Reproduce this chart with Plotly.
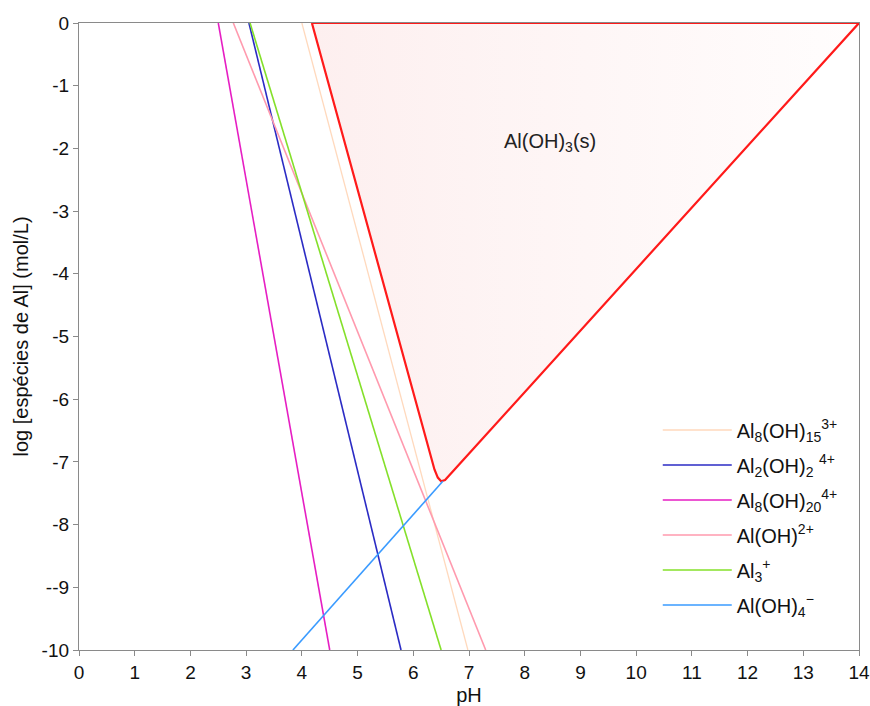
import plotly.graph_objects as go

# ---- data ----
species_names = [
    "Al<sub>8</sub>(OH)<sub>15</sub><sup>3+</sup>",
    "Al<sub>2</sub>(OH)<sub>2</sub> <sup>4+</sup>",
    "Al<sub>8</sub>(OH)<sub>20</sub><sup>4+</sup>",
    "Al(OH)<sup>2+</sup>",
    "Al<sub>3</sub><sup>+</sup>",
    "Al(OH)<sub>4</sub><sup>−</sup>",
]
species_ph = [
    [4.00, 6.98],
    [3.05, 5.78],
    [2.50, 4.50],
    [2.77, 7.30],
    [3.07, 6.50],
    [3.84, 6.53],
]
species_log = [
    [0, -10],
    [0, -10],
    [0, -10],
    [0, -10],
    [0, -10],
    [-10, -7.31],
]
species_colors = ["#ffd9bd", "#2b2bc4", "#e61ec3", "#ff9aae", "#84e02a", "#3a9bff"]
species_widths = [1.3, 1.6, 1.6, 1.6, 1.6, 1.6]

solid_ph = [4.18, 6.38, 6.44, 6.50, 6.57, 14.0, 4.18]
solid_log = [0, -7.12, -7.25, -7.31, -7.29, 0, 0]
solid_label = "Al(OH)<sub>3</sub>(s)"

x_ticks = list(range(0, 15))
y_ticks = [0, -1, -2, -3, -4, -5, -6, -7, -8, -9, -10]
y_tick_text = ["0", "-1", "-2", "-3", "-4", "-5", "-6", "-7", "-8", "--9", "-10"]
y_title = "log [espécies de Al] (mol/L)"

FONT = "Arial, Liberation Sans, sans-serif"

fig = go.Figure()

fig.add_trace(go.Scatter(
    x=solid_ph, y=solid_log, mode="lines", fill="toself",
    fillgradient=dict(type="horizontal",
                      colorscale=[[0, "#fdefef"], [1, "#fffdfd"]]),
    line=dict(color="#ff1a1a", width=2.2),
    showlegend=False, hoverinfo="skip",
))

for i, name in enumerate(species_names):
    fig.add_trace(go.Scatter(
        x=species_ph[i], y=species_log[i], mode="lines", name=name,
        line=dict(color=species_colors[i], width=species_widths[i]),
        legendgroup=f"g{i}",
    ))

fig.add_annotation(x=8.46, y=-1.9, text=solid_label, showarrow=False,
                   font=dict(family=FONT, size=20, color="#222"))

# y-axis title placed as a rotated annotation left of the tick labels
fig.add_annotation(xref="paper", yref="paper", x=-0.0756, y=0.5,
                   xanchor="center", yanchor="middle", textangle=-90,
                   text=y_title, showarrow=False,
                   font=dict(family=FONT, size=20, color="#111"))

axis_common = dict(showline=True, linecolor="#8a8a8a", linewidth=1.3,
                   mirror=True, ticks="outside", ticklen=5, tickcolor="#8a8a8a",
                   showgrid=False, zeroline=False, ticklabeloverflow="allow",
                   tickfont=dict(family=FONT, size=19, color="#111"))

fig.update_layout(
    width=870, height=706,
    margin=dict(l=79, r=11, t=23, b=56),
    paper_bgcolor="white", plot_bgcolor="white",
    xaxis=dict(range=[0, 14], tickvals=x_ticks, automargin=False,
               title=dict(text="pH", font=dict(family=FONT, size=20, color="#111")),
               **axis_common),
    yaxis=dict(range=[-10, 0], tickvals=y_ticks, ticktext=y_tick_text, automargin=False,
               **axis_common),
    legend=dict(x=0.742, y=0.382, xanchor="left", yanchor="top",
                bgcolor="rgba(255,255,255,0)", tracegroupgap=6, itemwidth=69,
                font=dict(family=FONT, size=20, color="#111")),
    font=dict(family=FONT),
)

# remove the default page margin so the 870x706 figure fills the window exactly
fig.write_html("out.html", config={"displayModeBar": False},
               post_script="document.body.style.margin='0';document.body.style.overflow='hidden';")
